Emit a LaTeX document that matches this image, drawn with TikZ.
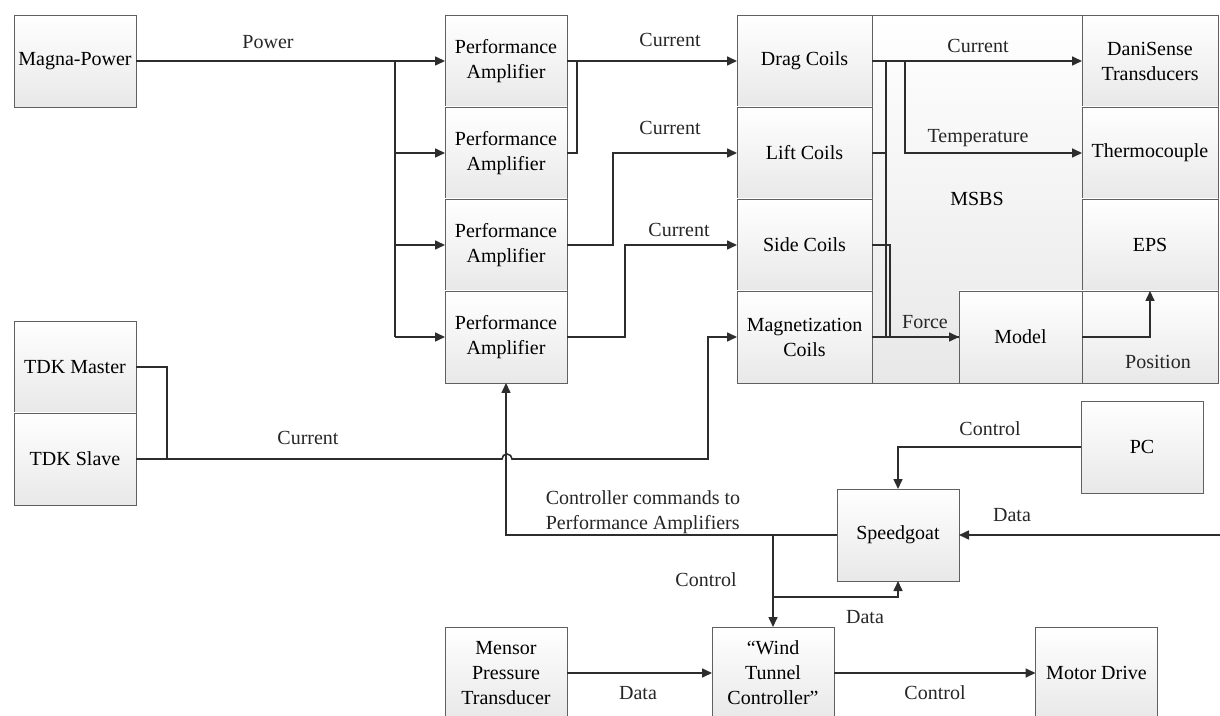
\documentclass[tikz,border=0pt]{standalone}
\usepackage{fontspec}
\setmainfont{Liberation Serif}
\usetikzlibrary{arrows.meta}
\begin{document}
\begin{tikzpicture}[x=0.5pt,y=-0.5pt,font=\fontsize{10}{12.5}\selectfont,blk/.style={shape=rectangle,draw=gray!75!black,top color=white,bottom color=gray!18,minimum width=61pt,minimum height=46pt,inner sep=1pt,outer sep=0pt,align=center},blkw/.style={blk,minimum width=67.5pt},ln/.style={draw=gray!35!black,line width=0.8pt},arr/.style={ln,-{Triangle[length=5pt,width=4.5pt]}},lbl/.style={text=black!85}]
\def\xpa{506};
\def\xco{804.5};
\def\xri{1150};
\def\ra{61};
\def\rb{153};
\def\rc{245};
\def\rd{337};

\useasboundingbox (0,0) rectangle (1220,716);

\node[blk] (magna) at (75,\ra) {Magna-Power};

\node[blk] (pa1) at (\xpa,\ra) {Performance\\Amplifier};
\node[blk] (pa2) at (\xpa,\rb) {Performance\\Amplifier};
\node[blk] (pa3) at (\xpa,\rc) {Performance\\Amplifier};
\node[blk] (pa4) at (\xpa,\rd) {Performance\\Amplifier};

\node[blk,minimum width=105pt,minimum height=184pt] (msbs) at (977,199) {MSBS};

\node[blkw] (drag) at (\xco,\ra) {Drag Coils};
\node[blkw] (lift) at (\xco,\rb) {Lift Coils};
\node[blkw] (side) at (\xco,\rc) {Side Coils};
\node[blkw] (mag) at (\xco,\rd) {Magnetization\\Coils};

\node[blkw,minimum width=68pt] (dani) at (\xri,\ra) {DaniSense\\Transducers};
\node[blkw,minimum width=68pt] (thermo) at (\xri,\rb) {Thermocouple};
\node[blkw,minimum width=68pt] (eps) at (\xri,\rc) {EPS};
\node[blkw,minimum width=68pt] (pos) at (\xri,\rd) {};
\node[lbl] (posl) at (1158,362) {Position};
\node[blk,minimum width=61.5pt] (model) at (1020.5,\rd) {Model};

\node[blk] (master) at (75,367) {TDK Master};
\node[blk] (slave) at (75,459) {TDK Slave};

\node[blk] (pc) at (1142,447) {PC};
\node[blk] (speed) at (898,535) {Speedgoat};
\node[blk] (mensor) at (506,673) {Mensor\\Pressure\\Transducer};
\node[blk] (wtc) at (773,673) {“Wind\\Tunnel\\Controller”};
\node[blk] (motor) at (1096.5,673) {Motor Drive};

% power to the amplifiers
\coordinate (pw) at (395,\ra);
\draw[arr] (magna) -- (pa1);
\draw[ln] (pw) -- (pw |- pa4);
\foreach \n in {2,3,4}
  \draw[arr] (pw |- pa\n) -- (pa\n);
\node[lbl] (pwl) at (268,42) {Power};

% amplifiers to coils
\coordinate (j1) at (577,\ra);
\draw[arr] (pa1) -- (drag);
\draw[ln] (pa2.east) -| (j1);
\draw[arr] (pa3.east) -- ++(46,0) |- (lift);
\draw[arr] (pa4.east) -- ++(58,0) |- (side);
\node[lbl] (cu1) at (670,40) {Current};
\node[lbl] (cu2) at (670,128) {Current};
\node[lbl] (cu3) at (679,230) {Current};

% inside MSBS
\coordinate (f1) at (886,\ra);
\coordinate (t1) at (905,\ra);
\draw[arr] (drag) -- (dani);
\draw[arr] (t1) |- (thermo);
\draw[ln] (f1) -- (f1 |- model);
\draw[ln] (lift) -- (lift -| f1);
\draw[ln] (side.east) -- ++(18,0) |- (model);
\draw[arr] (mag) -- (model);
\draw[arr] (model.east) -| (eps);
\node[lbl] (cu4) at (978,46) {Current};
\node[lbl] (tl) at (978,138) {Temperature};
\node[lbl] (fl) at (925,322) {Force};

% TDK supplies
\coordinate (tj) at (167,459);
\coordinate (hop) at (507,459);
\coordinate (mc) at (708,459);
\draw[ln] (master) -| (tj);
\draw[arr] (slave) -- ([xshift=-2.5pt]hop) arc[start angle=180,end angle=0,radius=2.5pt] -- (mc) |- (mag);
\node[lbl] (cu5) at (308,438) {Current};

% control loop
\coordinate (cd) at (773,535);
\coordinate (du) at (773,597);
\coordinate (din) at (1220,535);
\draw[arr] (speed) -| (pa4);
\draw[arr] (cd) -- (wtc);
\draw[arr] (du) -| (speed);
\draw[arr] (pc) -| (speed);
\draw[arr] (din) -- (speed);
\draw[arr] (mensor) -- (wtc);
\draw[arr] (wtc) -- (motor);
\node[lbl,align=left] (ccl) at (643,512) {Controller commands to\\Performance Amplifiers};
\node[lbl] (co1) at (706,580) {Control};
\node[lbl] (da1) at (865,617) {Data};
\node[lbl] (co2) at (990,429) {Control};
\node[lbl] (da2) at (1012,515) {Data};
\node[lbl] (da3) at (638,693) {Data};
\node[lbl] (co3) at (935,693) {Control};
\end{tikzpicture}
\end{document}
